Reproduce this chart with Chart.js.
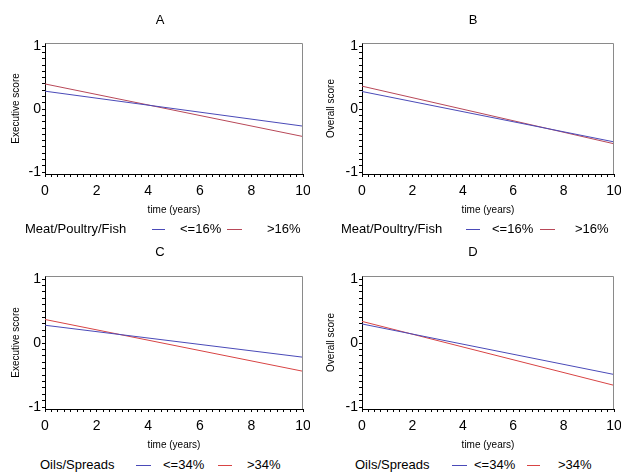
<!DOCTYPE html>
<html>
<head>
<meta charset="utf-8">
<script src="https://cdn.jsdelivr.net/npm/chart.js@4/dist/chart.umd.min.js"></script>
<style>
  html, body { margin: 0; padding: 0; background: #fff; }
  body { width: 621px; height: 474px; position: relative; overflow: hidden;
         font-family: Arial, "Liberation Sans", sans-serif; color: #000; }
  canvas { position: absolute; }
  .t { position: absolute; white-space: nowrap; line-height: 16px; }
  .ttl { font-size: 13px; transform: translateX(-50%); }
  .lg { font-size: 13px; }
  .ln { position: absolute; height: 1px; }
</style>
</head>
<body>
<canvas id="cA" width="310" height="218" style="left:0;top:0"></canvas>
<canvas id="cB" width="311" height="218" style="left:310px;top:0"></canvas>
<canvas id="cC" width="310" height="218" style="left:0;top:235px"></canvas>
<canvas id="cD" width="311" height="218" style="left:310px;top:235px"></canvas>

<div class="t ttl" style="left:160px;top:12px">A</div>
<div class="t ttl" style="left:473px;top:12px">B</div>
<div class="t ttl" style="left:160px;top:244px">C</div>
<div class="t ttl" style="left:473px;top:244px">D</div>

<div id="legends"></div>

<script>
// ---------- data ----------
const years = [0, 10];
const panelTitles = ['A', 'B', 'C', 'D'];
const yTitles = ['Executive score', 'Overall score', 'Executive score', 'Overall score'];
const xTitle = 'time (years)';
const groupMeat = 'Meat/Poultry/Fish';
const groupOils = 'Oils/Spreads';
const meatLabels = ['<=16%', '>16%'];
const oilsLabels = ['<=34%', '>34%'];

const execMeatLow  = [0.285, -0.27];
const execMeatHigh = [0.40, -0.435];
const overMeatLow  = [0.28, -0.52];
const overMeatHigh = [0.365, -0.55];
const execOilsLow  = [0.28, -0.22];
const execOilsHigh = [0.37, -0.44];
const overOilsLow  = [0.30, -0.49];
const overOilsHigh = [0.34, -0.66];

const xTickValues = Array.from({length: 41}, (_, i) => i / 4);
const yTickValues = Array.from({length: 21}, (_, i) => (i - 10) / 10);

const BLUE = '#4a4ab8';
const RED1 = '#b84858';
const RED2 = '#d84444';

// ---------- plugin: top/right frame ----------
const framePlugin = {
  id: 'frame',
  afterDraw(chart) {
    const {ctx, chartArea: a} = chart;
    ctx.save();
    ctx.strokeStyle = '#8a8a8a';
    ctx.lineWidth = 1;
    ctx.beginPath();
    ctx.moveTo(Math.round(a.left) + 0.5, Math.round(a.top) + 0.5);
    ctx.lineTo(Math.round(a.right) - 0.5, Math.round(a.top) + 0.5);
    ctx.lineTo(Math.round(a.right) - 0.5, Math.round(a.bottom));
    ctx.stroke();
    ctx.restore();
  }
};

function isInt(v) { return Math.abs(v - Math.round(v)) < 1e-9; }

function makePanel(id, low, high, red, yTitle, opt) {
  const toPts = arr => years.map((x, i) => ({x: x, y: arr[i]}));
  new Chart(document.getElementById(id), {
    type: 'scatter',
    data: {
      datasets: [
        {data: toPts(low),  borderColor: BLUE, borderWidth: 1, showLine: true, pointRadius: 0, fill: false},
        {data: toPts(high), borderColor: red,  borderWidth: 1, showLine: true, pointRadius: 0, fill: false}
      ]
    },
    options: {
      responsive: false,
      animation: false,
      devicePixelRatio: 1,
      layout: {padding: {top: opt.top, right: opt.right, left: 0, bottom: 0}},
      plugins: {legend: {display: false}, tooltip: {enabled: false}, title: {display: false}},
      scales: {
        x: {
          type: 'linear', min: 0, max: 10,
          afterBuildTicks: s => { s.ticks = xTickValues.map(v => ({value: v})); },
          afterFit: s => { s.height = 44; s.paddingLeft = 0; s.paddingRight = 0; },
          ticks: {
            autoSkip: false, maxRotation: 0, padding: 6, color: '#000',
            font: {family: 'Arial, "Liberation Sans", sans-serif', size: 14},
            callback: v => (isInt(v) && Math.round(v) % 2 === 0) ? String(Math.round(v)) : ''
          },
          grid: {drawOnChartArea: false, tickLength: 3, color: '#000', tickColor: '#000'},
          border: {color: '#000', width: 1},
          title: {display: true, text: xTitle, color: '#000',
                  font: {family: 'Arial, "Liberation Sans", sans-serif', size: 10},
                  padding: {top: 0, bottom: 2}}
        },
        y: {
          type: 'linear', min: -1.03, max: 1.05,
          afterBuildTicks: s => { s.ticks = yTickValues.map(v => ({value: v})); },
          afterFit: s => { s.width = opt.yw; s.paddingTop = 0; s.paddingBottom = 0; },
          ticks: {
            autoSkip: false, padding: 1, color: '#000',
            font: {family: 'Arial, "Liberation Sans", sans-serif', size: 14},
            callback: v => isInt(v) ? String(Math.round(v)) : ''
          },
          grid: {drawOnChartArea: false, tickLength: 3, color: '#000', tickColor: '#000'},
          border: {color: '#000', width: 1},
          title: {display: true, text: yTitle, color: '#000',
                  font: {family: 'Arial, "Liberation Sans", sans-serif', size: 10},
                  padding: {top: opt.ytp, bottom: 0}}
        }
      }
    },
    plugins: [framePlugin]
  });
}

makePanel('cA', execMeatLow, execMeatHigh, RED1, yTitles[0], {top: 43, right: 7, yw: 45, ytp: 10});
makePanel('cB', overMeatLow, overMeatHigh, RED1, yTitles[1], {top: 43, right: 7, yw: 52, ytp: 15});
makePanel('cC', execOilsLow, execOilsHigh, RED2, yTitles[2], {top: 41, right: 7, yw: 45, ytp: 10});
makePanel('cD', overOilsLow, overOilsHigh, RED2, yTitles[3], {top: 41, right: 7, yw: 52, ytp: 15});

// ---------- legends ----------
function legend(y, group, labels, red, pos) {
  const c = document.getElementById('legends');
  const add = (html) => c.insertAdjacentHTML('beforeend', html);
  const esc = s => s.replace(/&/g, '&amp;').replace(/</g, '&lt;').replace(/>/g, '&gt;');
  add(`<div class="t lg" style="left:${pos.g}px;top:${y - 8}px">${esc(group)}</div>`);
  add(`<div class="ln" style="left:${pos.b1}px;width:${pos.b2 - pos.b1}px;top:${y}px;background:${BLUE}"></div>`);
  add(`<div class="t lg" style="left:${pos.l1}px;top:${y - 8}px">${esc(labels[0])}</div>`);
  add(`<div class="ln" style="left:${pos.r1}px;width:${pos.r2 - pos.r1}px;top:${y}px;background:${red}"></div>`);
  add(`<div class="t lg" style="left:${pos.l2}px;top:${y - 8}px">${esc(labels[1])}</div>`);
}
legend(229, groupMeat, meatLabels, RED1, {g: 25, b1: 152, b2: 165, l1: 180, r1: 227, r2: 242, l2: 267});
legend(229, groupMeat, meatLabels, RED1, {g: 341, b1: 466, b2: 480, l1: 492, r1: 540, r2: 555, l2: 575});
legend(465, groupOils, oilsLabels, RED2, {g: 40, b1: 136, b2: 151, l1: 163, r1: 218, r2: 232, l2: 247});
legend(465, groupOils, oilsLabels, RED2, {g: 355, b1: 452, b2: 467, l1: 474, r1: 527, r2: 540, l2: 558});
</script>
</body>
</html>
